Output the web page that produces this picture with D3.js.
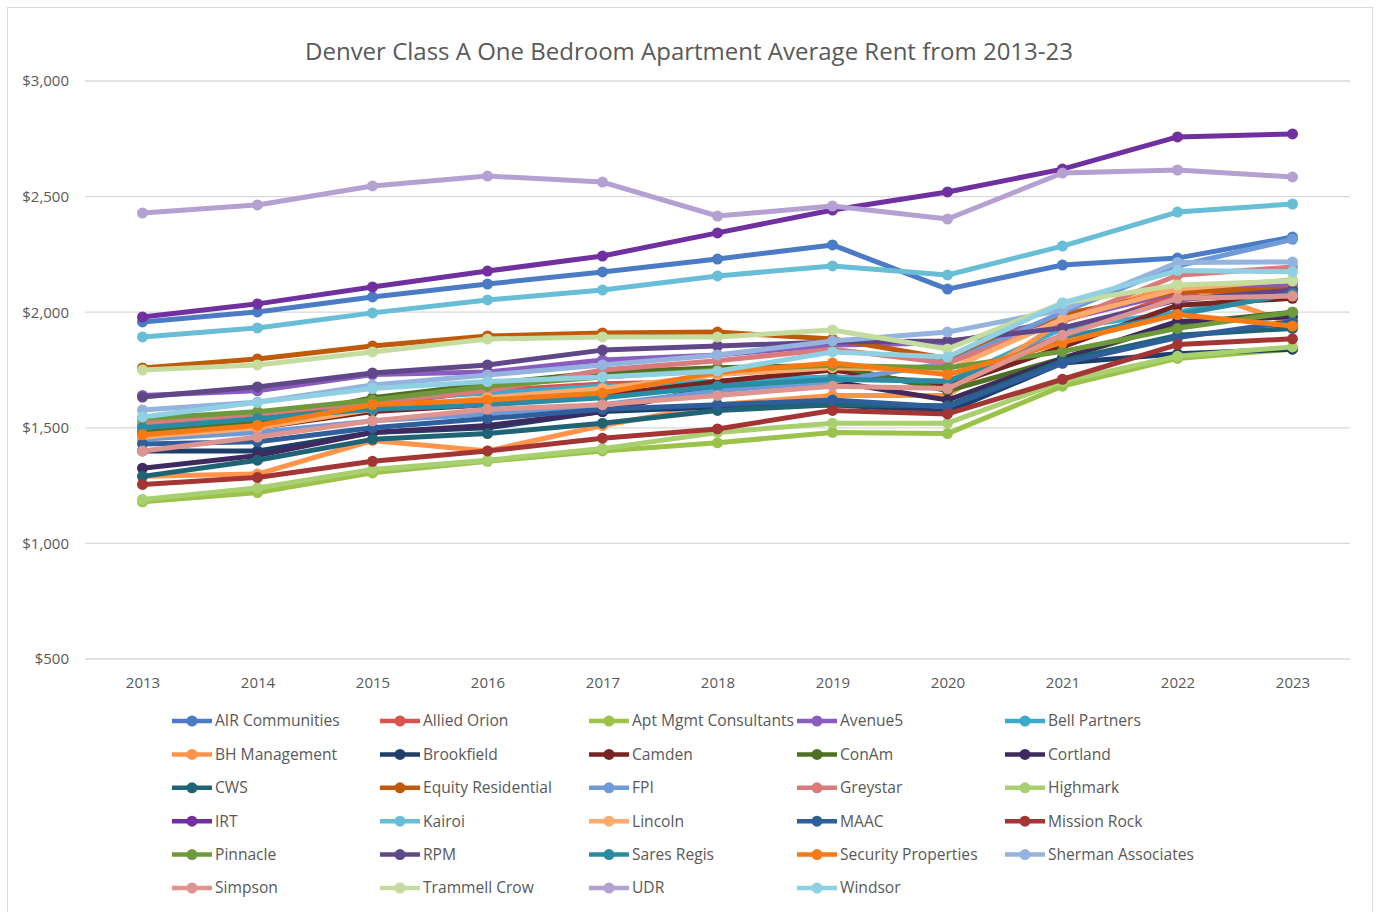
<!DOCTYPE html>
<html>
<head>
<meta charset="utf-8">
<script src="https://cdn.jsdelivr.net/npm/d3@7"></script>
<style>
  body { margin: 0; background: #fff; }
  svg { display: block; font-family: "Open Sans", "Noto Sans", sans-serif; }
</style>
</head>
<body>
<div id="chart"></div>
<script>
const years = ["2013", "2014", "2015", "2016", "2017", "2018", "2019", "2020", "2021", "2022", "2023"];
const yTicks = [500, 1000, 1500, 2000, 2500, 3000];

const companies = [
  "AIR Communities", "Allied Orion", "Apt Mgmt Consultants", "Avenue5", "Bell Partners",
  "BH Management", "Brookfield", "Camden", "ConAm", "Cortland",
  "CWS", "Equity Residential", "FPI", "Greystar", "Highmark",
  "IRT", "Kairoi", "Lincoln", "MAAC", "Mission Rock",
  "Pinnacle", "RPM", "Sares Regis", "Security Properties", "Sherman Associates",
  "Simpson", "Trammell Crow", "UDR", "Windsor"
];

const colors = [
  "#4a7bc4", "#d9534f", "#9bc34a", "#8a5cc0", "#3daacc",
  "#ff944a", "#1f3f6a", "#7a2323", "#4f6f22", "#3e2a5e",
  "#1f6475", "#c05a0a", "#6e9ad8", "#d97b7b", "#a8d06e",
  "#7030a0", "#67bed6", "#fdaa6c", "#2e5f9a", "#a33535",
  "#6e9a3c", "#604888", "#2a8ca2", "#f77a15", "#94b3df",
  "#de9590", "#c4dd9e", "#b5a0d2", "#8fd0e2"
];

// average rent per company, 2013..2023
const airCommunities   = [1958, 2001, 2066, 2122, 2174, 2230, 2291, 2100, 2204, 2234, 2325];
const alliedOrion      = [1480, 1510, 1600, 1660, 1690, 1700, 1720, 1700, 1900, 2080, 2100];
const aptMgmt          = [1180, 1220, 1305, 1355, 1400, 1435, 1480, 1475, 1680, 1800, 1840];
const avenue5          = [1640, 1660, 1730, 1741, 1793, 1815, 1858, 1867, 1966, 2087, 2122];
const bellPartners     = [1510, 1530, 1620, 1650, 1680, 1700, 1720, 1700, 1930, 2000, 2090];
const bhManagement     = [1290, 1300, 1445, 1400, 1510, 1600, 1640, 1640, 1960, 2120, 1950];
const brookfield       = [1400, 1400, 1480, 1500, 1570, 1590, 1600, 1570, 1780, 1820, 1840];
const camden           = [1465, 1500, 1570, 1600, 1640, 1700, 1750, 1680, 1850, 2030, 2060];
const conAm            = [1480, 1530, 1630, 1690, 1740, 1760, 1770, 1660, 1800, 1950, 2000];
const cortland         = [1325, 1380, 1480, 1510, 1570, 1680, 1700, 1620, 1800, 1960, 1980];
const cws              = [1290, 1360, 1450, 1475, 1520, 1575, 1600, 1595, 1790, 1900, 1930];
const equityResidential= [1759, 1798, 1854, 1897, 1910, 1914, 1884, 1800, 1990, 2090, 2100];
const fpi              = [1450, 1480, 1530, 1560, 1600, 1660, 1700, 1780, 2000, 2200, 2315];
const greystar         = [1520, 1560, 1610, 1660, 1750, 1790, 1840, 1780, 1960, 2160, 2195];
const highmark         = [1190, 1240, 1320, 1360, 1410, 1480, 1520, 1520, 1700, 1810, 1850];
const irt              = [1979, 2036, 2109, 2178, 2243, 2343, 2442, 2520, 2619, 2758, 2771];
const kairoi           = [1893, 1932, 1997, 2053, 2096, 2157, 2200, 2161, 2286, 2433, 2468];
const lincoln          = [1460, 1500, 1580, 1630, 1670, 1730, 1760, 1750, 1970, 2100, 2140];
const maac             = [1430, 1440, 1500, 1540, 1580, 1600, 1620, 1590, 1780, 1890, 1960];
const missionRock      = [1255, 1285, 1355, 1400, 1455, 1495, 1575, 1560, 1710, 1860, 1885];
const pinnacle         = [1540, 1570, 1620, 1680, 1720, 1750, 1770, 1760, 1830, 1930, 2000];
const rpm              = [1633, 1677, 1737, 1772, 1836, 1854, 1871, 1875, 1932, 2053, 2096];
const saresRegis       = [1500, 1540, 1580, 1600, 1630, 1680, 1710, 1700, 1890, 1990, 2080];
const securityProps    = [1470, 1510, 1600, 1620, 1650, 1740, 1780, 1730, 1870, 1990, 1940];
const shermanAssoc     = [1577, 1611, 1685, 1728, 1772, 1815, 1875, 1914, 2010, 2215, 2217];
const simpson          = [1400, 1460, 1530, 1580, 1600, 1640, 1680, 1670, 1900, 2060, 2070];
const trammellCrow     = [1750, 1772, 1828, 1884, 1893, 1893, 1923, 1841, 2040, 2118, 2135];
const udr              = [2429, 2464, 2546, 2589, 2563, 2416, 2459, 2403, 2602, 2615, 2585];
const windsor          = [1547, 1610, 1670, 1700, 1720, 1745, 1828, 1806, 2040, 2180, 2175];

const seriesValues = [
  airCommunities, alliedOrion, aptMgmt, avenue5, bellPartners,
  bhManagement, brookfield, camden, conAm, cortland,
  cws, equityResidential, fpi, greystar, highmark,
  irt, kairoi, lincoln, maac, missionRock,
  pinnacle, rpm, saresRegis, securityProps, shermanAssoc,
  simpson, trammellCrow, udr, windsor
];

const series = companies.map((name, i) => ({
  name: name,
  color: colors[i],
  values: seriesValues[i].map((v, j) => ({ year: years[j], value: v }))
}));

const width = 1377;
const height = 912;
const plot = { left: 85, right: 1350, top: 81, bottom: 659 };

const svg = d3.select("#chart")
  .append("svg")
  .attr("width", width)
  .attr("height", height);

// outer frame
svg.append("rect")
  .attr("x", 7.5).attr("y", 7.5)
  .attr("width", 1365).attr("height", 920)
  .attr("fill", "#fff")
  .attr("stroke", "#d9d9d9");

svg.append("text")
  .attr("x", 689)
  .attr("y", 60)
  .attr("text-anchor", "middle")
  .attr("font-size", 24)
  .attr("fill", "#595959")
  .text("Denver Class A One Bedroom Apartment Average Rent from 2013-23");

const x = d3.scalePoint()
  .domain(years)
  .range([plot.left, plot.right])
  .padding(0.5);

const y = d3.scaleLinear()
  .domain([500, 3000])
  .range([plot.bottom, plot.top]);

// gridlines
svg.append("g")
  .selectAll("line")
  .data(yTicks)
  .enter()
  .append("line")
  .attr("x1", plot.left)
  .attr("x2", plot.right)
  .attr("y1", d => y(d))
  .attr("y2", d => y(d))
  .attr("stroke", "#d9d9d9")
  .attr("stroke-width", 1.3);

// y axis labels
const yAxis = svg.append("g")
  .attr("transform", `translate(${plot.left - 16},0)`)
  .call(d3.axisLeft(y).tickValues(yTicks).tickSize(0).tickFormat(d => "$" + d3.format(",")(d)));
yAxis.select(".domain").remove();
yAxis.selectAll("text")
  .attr("font-family", "'Open Sans', sans-serif")
  .attr("font-size", 15)
  .attr("fill", "#595959")
  .attr("x", 0);

// x axis labels
const xAxis = svg.append("g")
  .attr("transform", `translate(0,${plot.bottom + 15})`)
  .call(d3.axisBottom(x).tickSize(0));
xAxis.select(".domain").remove();
xAxis.selectAll("text")
  .attr("font-family", "'Open Sans', sans-serif")
  .attr("font-size", 15)
  .attr("fill", "#595959");

const line = d3.line()
  .x(d => x(d.year))
  .y(d => y(d.value));

const groups = svg.append("g")
  .selectAll("g")
  .data(series)
  .enter()
  .append("g");

groups.append("path")
  .attr("d", d => line(d.values))
  .attr("fill", "none")
  .attr("stroke", d => d.color)
  .attr("stroke-width", 5)
  .attr("stroke-linejoin", "round");

groups.selectAll("circle")
  .data(d => d.values.map(v => ({ ...v, color: d.color })))
  .enter()
  .append("circle")
  .attr("cx", d => x(d.year))
  .attr("cy", d => y(d.value))
  .attr("r", 5.5)
  .attr("fill", d => d.color);

// legend, 5 columns, row-wise
const legendCols = [172, 380, 589, 797, 1005];
const legendTop = 721;
const legendStep = 33.4;

const legend = svg.append("g")
  .selectAll("g")
  .data(series)
  .enter()
  .append("g")
  .attr("transform", (d, i) => `translate(${legendCols[i % 5]},${legendTop + Math.floor(i / 5) * legendStep})`);

legend.append("line")
  .attr("x1", 0).attr("x2", 40)
  .attr("stroke", d => d.color)
  .attr("stroke-width", 4.5);

legend.append("circle")
  .attr("cx", 20)
  .attr("r", 5.5)
  .attr("fill", d => d.color);

legend.append("text")
  .attr("x", 43)
  .attr("dy", "0.35em")
  .attr("font-size", 15.6)
  .attr("fill", "#595959")
  .text(d => d.name);
</script>
</body>
</html>
